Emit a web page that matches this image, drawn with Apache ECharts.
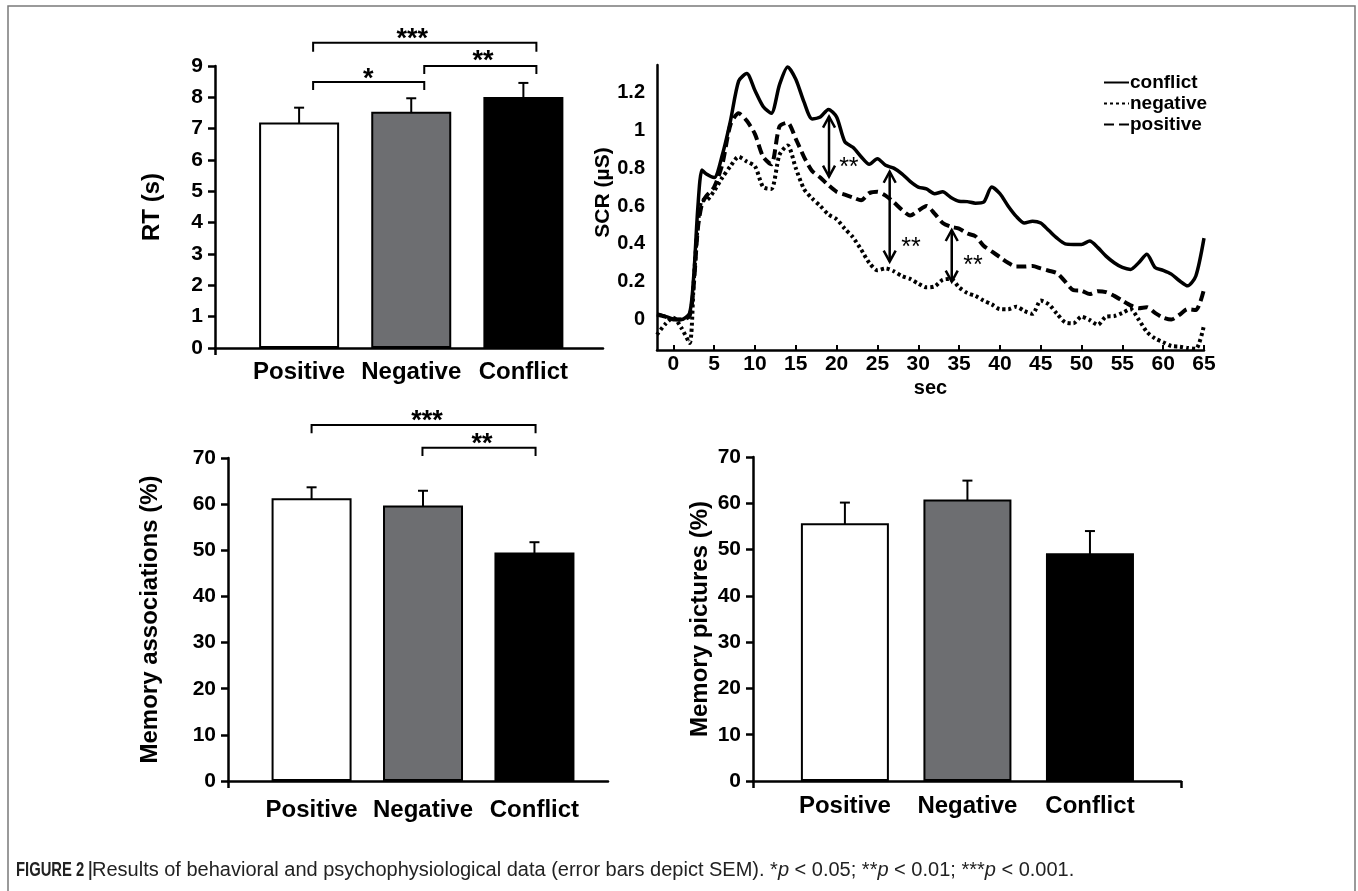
<!DOCTYPE html>
<html>
<head>
<meta charset="utf-8">
<script src="https://cdn.jsdelivr.net/npm/echarts@6/dist/echarts.min.js"></script>
<style>
  html, body { margin: 0; padding: 0; background: #fff; }
  #main { width: 1358px; height: 891px; }
</style>
</head>
<body>
<div id="main"></div>
<script>
// categories and bar values
var catNames = ['Positive', 'Negative', 'Conflict'];
var barColors = ['#ffffff', '#6d6e71', '#000000'];

var rtMean = [7.2, 7.54, 8.01];
var rtSem = [0.47, 0.43, 0.45];

var assocMean = [61.3, 59.7, 49.5];
var assocSem = [2.35, 3.2, 2.25];

var pictMean = [55.7, 60.8, 49.2];
var pictSem = [4.45, 4.1, 4.8];

// SCR time course (sec)
var secs = [-2, -1, 0, 1, 2, 2.5, 3, 3.5, 4, 5, 6, 7, 8, 9, 10, 11, 12, 13, 14, 15, 16, 17, 18, 19, 20,
  21, 22, 23, 24, 25, 26, 27, 28, 29, 30, 31, 32, 33, 34, 35, 36, 37, 38, 39, 40, 41, 42, 43, 44, 45,
  46, 47, 48, 49, 50, 51, 52, 53, 54, 55, 56, 57, 58, 59, 60, 61, 62, 63, 64, 65];
var scrConflict = [0.03, 0.017, 0.003, 0.0, 0.035, 0.23, 0.59, 0.79, 0.77, 0.75, 0.87, 1.05, 1.26, 1.30, 1.21,
  1.126, 1.09, 1.24, 1.335, 1.27, 1.15, 1.06, 1.07, 1.11, 1.07, 0.94, 0.91, 0.86, 0.82, 0.85, 0.815, 0.80,
  0.77, 0.73, 0.70, 0.69, 0.665, 0.675, 0.645, 0.625, 0.623, 0.615, 0.62, 0.70, 0.665, 0.60, 0.545, 0.51,
  0.52, 0.51, 0.47, 0.43, 0.40, 0.397, 0.397, 0.415, 0.38, 0.335, 0.30, 0.275, 0.265, 0.30, 0.345, 0.275,
  0.26, 0.24, 0.205, 0.178, 0.23, 0.43];
var scrNegative = [-0.08, -0.025, 0.01, -0.045, -0.124, 0.2, 0.50, 0.63, 0.63, 0.68, 0.75, 0.81, 0.86, 0.835,
  0.81, 0.70, 0.69, 0.87, 0.92, 0.80, 0.69, 0.64, 0.60, 0.555, 0.53, 0.48, 0.435, 0.37, 0.30, 0.26, 0.27,
  0.255, 0.23, 0.215, 0.19, 0.17, 0.175, 0.21, 0.215, 0.17, 0.14, 0.125, 0.10, 0.08, 0.055, 0.054, 0.068,
  0.045, 0.03, 0.10, 0.08, 0.03, -0.015, -0.02, 0.015, -0.003, -0.028, 0.015, 0.018, 0.035, 0.055, 0.0,
  -0.065, -0.10, -0.12, -0.14, -0.143, -0.15, -0.155, -0.03];
var scrPositive = [0.025, 0.015, 0.0, 0.0, 0.02, 0.18, 0.48, 0.61, 0.65, 0.70, 0.82, 1.03, 1.09, 1.05, 0.98,
  0.86, 0.82, 1.02, 1.04, 0.955, 0.86, 0.785, 0.75, 0.71, 0.675, 0.66, 0.645, 0.63, 0.668, 0.675, 0.655,
  0.62, 0.58, 0.55, 0.575, 0.60, 0.56, 0.51, 0.49, 0.48, 0.455, 0.44, 0.39, 0.36, 0.33, 0.30, 0.28, 0.28,
  0.283, 0.27, 0.258, 0.245, 0.20, 0.155, 0.152, 0.135, 0.15, 0.145, 0.125, 0.10, 0.075, 0.06, 0.065,
  0.035, 0.01, 0.0, 0.025, 0.055, 0.05, 0.16];

// significance brackets: [x1, x2, yTop, yLeg, textX, textY]
var rtBrackets = [[0.125, 2.116, 9.745, 9.457, 1.01, 10.05], [1.116, 2.116, 9.0, 8.745, 1.64, 9.32], [0.125, 1.116, 8.49, 8.235, 0.616, 8.77]];
var rtStars = ['***', '**', '*'];
var assocBrackets = [[0, 2.01, 77.16, 75.36, 1.036, 79.3], [0.995, 2.01, 72.24, 70.44, 1.53, 74.3]];
var assocStars = ['***', '**'];
// SCR double arrows: [x, yTop, yBottom, textX, textY]
var scrArrows = [[19.07, 1.072, 0.755, 21.5, 0.825], [26.5, 0.781, 0.306, 29.1, 0.403], [34.1, 0.473, 0.2, 36.7, 0.311]];

var FONT = 'Liberation Sans';
var myChart = echarts.init(document.getElementById('main'));

function barData(means) {
  return means.map(function (v, i) {
    return { value: [i, v], itemStyle: { color: barColors[i] } };
  });
}
function errData(means, sems) {
  return means.map(function (v, i) { return [i, v, sems[i]]; });
}
function lineData(vals) {
  return secs.map(function (s, i) { return [s, vals[i]]; });
}

function renderErr(capHalf) {
  return function (params, api) {
    var x = api.value(0), m = api.value(1), e = api.value(2);
    var hi = api.coord([x, m + e]);
    var lo = api.coord([x, m - e]);
    var st = { stroke: '#000', lineWidth: 2 };
    return {
      type: 'group', children: [
        { type: 'line', shape: { x1: hi[0], y1: hi[1], x2: lo[0], y2: lo[1] }, style: st },
        { type: 'line', shape: { x1: hi[0] - capHalf, y1: hi[1], x2: hi[0] + capHalf, y2: hi[1] }, style: st },
        { type: 'line', shape: { x1: lo[0] - capHalf, y1: lo[1], x2: lo[0] + capHalf, y2: lo[1] }, style: st }
      ]
    };
  };
}

function renderBracket(labels) {
  return function (params, api) {
    var a = api.coord([api.value(0), api.value(3)]);
    var b = api.coord([api.value(0), api.value(2)]);
    var c = api.coord([api.value(1), api.value(2)]);
    var d = api.coord([api.value(1), api.value(3)]);
    var t = api.coord([api.value(4), api.value(5)]);
    return {
      type: 'group', children: [
        { type: 'polyline', shape: { points: [a, b, c, d] }, style: { stroke: '#000', lineWidth: 2, fill: 'none' } },
        { type: 'text', x: t[0], y: t[1] + 6, style: { text: labels[params.dataIndex], fill: '#000',
          fontFamily: FONT, fontWeight: 'bold', fontSize: 27, align: 'center', verticalAlign: 'middle' } }
      ]
    };
  };
}

function renderArrow(params, api) {
  var top = api.coord([api.value(0), api.value(1)]);
  var bot = api.coord([api.value(0), api.value(2)]);
  var t = api.coord([api.value(3), api.value(4)]);
  var st = { stroke: '#000', lineWidth: 2.5, fill: 'none' };
  var w = 6, h = 11;
  return {
    type: 'group', children: [
      { type: 'line', shape: { x1: top[0], y1: top[1], x2: bot[0], y2: bot[1] }, style: st },
      { type: 'polyline', shape: { points: [[top[0] - w, top[1] + h], [top[0], top[1]], [top[0] + w, top[1] + h]] }, style: st },
      { type: 'polyline', shape: { points: [[bot[0] - w, bot[1] - h], [bot[0], bot[1]], [bot[0] + w, bot[1] - h]] }, style: st },
      { type: 'text', x: t[0], y: t[1] + 5, style: { text: '**', fill: '#000', fontFamily: FONT,
        fontSize: 25, align: 'center', verticalAlign: 'middle' } }
    ]
  };
}

var tickLabel = { color: '#000', fontFamily: FONT, fontWeight: 'bold', fontSize: 21 };
var nameStyle = { color: '#000', fontFamily: FONT, fontWeight: 'bold', fontSize: 24 };

function catAxis(grid, max, ticks, margin) {
  return {
    type: 'value', gridIndex: grid, min: -0.75, max: max,
    axisLine: { onZero: false, lineStyle: { color: '#000', width: 2.5 } },
    axisTick: { show: true, customValues: ticks, length: 7, lineStyle: { color: '#000', width: 2.5 } },
    axisLabel: {
      customValues: [0, 1, 2], margin: margin, color: '#000', fontFamily: FONT, fontWeight: 'bold', fontSize: 24,
      formatter: function (v) { return catNames[Math.round(v)]; }
    },
    splitLine: { show: false }
  };
}
function valAxis(grid, max, interval, name, gap) {
  return {
    type: 'value', gridIndex: grid, min: 0, max: max, interval: interval,
    name: name, nameLocation: 'middle', nameGap: gap, nameTextStyle: nameStyle,
    axisLine: { show: true, onZero: false, lineStyle: { color: '#000', width: 2.5 } },
    axisTick: { show: true, length: 7, lineStyle: { color: '#000', width: 2.5 } },
    axisLabel: Object.assign({ margin: 12 }, tickLabel),
    splitLine: { show: false }
  };
}

var option = {
  backgroundColor: '#fff',
  animation: false,
  textStyle: { fontFamily: FONT },
  grid: [
    { left: 215, top: 66, width: 388, height: 282 },
    { left: 657, top: 65, width: 547, height: 285 },
    { left: 228, top: 458, width: 380, height: 323 },
    { left: 753, top: 457, width: 428, height: 324 }
  ],
  legend: {
    data: ['conflict', 'negative', 'positive'],
    orient: 'vertical', left: 1103, top: 73, padding: 0,
    itemWidth: 25, itemHeight: 12, itemGap: 2,
    itemStyle: { opacity: 0 },
    textStyle: { color: '#000', fontFamily: FONT, fontWeight: 'bold', fontSize: 19, lineHeight: 18, padding: [0, 0, 0, -4] }
  },
  xAxis: [
    catAxis(0, 2.71, [-0.75], 12),
    {
      type: 'value', gridIndex: 1, min: -2, max: 65,
      name: 'sec', nameLocation: 'middle', nameGap: 28,
      nameTextStyle: { color: '#000', fontFamily: FONT, fontWeight: 'bold', fontSize: 20 },
      axisLine: { onZero: false, lineStyle: { color: '#000', width: 2.5 } },
      axisTick: { show: true, inside: true, length: 5, customValues: [0, 5, 10, 15, 20, 25, 30, 35, 40, 45, 50, 55, 60, 65],
        lineStyle: { color: '#000', width: 2 } },
      axisLabel: { customValues: [0, 5, 10, 15, 20, 25, 30, 35, 40, 45, 50, 55, 60, 65], margin: 4,
        color: '#000', fontFamily: FONT, fontWeight: 'bold', fontSize: 21 },
      splitLine: { show: false }
    },
    catAxis(2, 2.66, [-0.75], 17),
    catAxis(3, 2.743, [-0.75, 2.743], 13)
  ],
  yAxis: [
    valAxis(0, 9, 1, 'RT (s)', 51),
    {
      type: 'value', gridIndex: 1, min: -0.161, max: 1.345,
      name: 'SCR (µS)', nameLocation: 'middle', nameGap: 38, nameTextStyle: Object.assign({}, nameStyle, { fontSize: 21, padding: [0, 0, 0, 30] }),
      axisLine: { show: true, onZero: false, lineStyle: { color: '#000', width: 2.5 } },
      axisTick: { show: false },
      axisLabel: { customValues: [0, 0.2, 0.4, 0.6, 0.8, 1, 1.2], margin: 12, color: '#000', fontFamily: FONT,
        fontWeight: 'bold', fontSize: 20, formatter: function (v) { return String(v); } },
      splitLine: { show: false }
    },
    valAxis(2, 70, 10, 'Memory associations (%)', 66),
    valAxis(3, 70, 10, 'Memory pictures (%)', 41)
  ],
  series: [
    { type: 'bar', xAxisIndex: 0, yAxisIndex: 0, barWidth: 80, data: barData(rtMean),
      itemStyle: { borderColor: '#000', borderWidth: 2 } },
    { type: 'custom', xAxisIndex: 0, yAxisIndex: 0, renderItem: renderErr(5), data: errData(rtMean, rtSem) },
    { type: 'custom', xAxisIndex: 0, yAxisIndex: 0, renderItem: renderBracket(rtStars), data: rtBrackets, clip: false },

    { type: 'bar', xAxisIndex: 2, yAxisIndex: 2, barWidth: 80, data: barData(assocMean),
      itemStyle: { borderColor: '#000', borderWidth: 2 } },
    { type: 'custom', xAxisIndex: 2, yAxisIndex: 2, renderItem: renderErr(5), data: errData(assocMean, assocSem) },
    { type: 'custom', xAxisIndex: 2, yAxisIndex: 2, renderItem: renderBracket(assocStars), data: assocBrackets, clip: false },

    { type: 'bar', xAxisIndex: 3, yAxisIndex: 3, barWidth: 88, data: barData(pictMean),
      itemStyle: { borderColor: '#000', borderWidth: 2 } },
    { type: 'custom', xAxisIndex: 3, yAxisIndex: 3, renderItem: renderErr(5), data: errData(pictMean, pictSem) },

    { name: 'conflict', type: 'line', xAxisIndex: 1, yAxisIndex: 1, data: lineData(scrConflict),
      symbol: 'none', smooth: 0.25, clip: false, itemStyle: { color: '#000' },
      lineStyle: { color: '#000', width: 3.5, type: 'solid' } },
    { name: 'negative', type: 'line', xAxisIndex: 1, yAxisIndex: 1, data: lineData(scrNegative),
      symbol: 'none', smooth: 0.25, clip: false, itemStyle: { color: '#000' },
      lineStyle: { color: '#000', width: 4, type: [3, 3], cap: 'butt' } },
    { name: 'positive', type: 'line', xAxisIndex: 1, yAxisIndex: 1, data: lineData(scrPositive),
      symbol: 'none', smooth: 0.25, clip: false, itemStyle: { color: '#000' },
      lineStyle: { color: '#000', width: 4, type: [10, 5], cap: 'butt' } },
    { type: 'custom', xAxisIndex: 1, yAxisIndex: 1, renderItem: renderArrow, data: scrArrows, clip: false }
  ],
  graphic: [
    { type: 'rect', shape: { x: 8, y: 6, width: 1347, height: 950 }, style: { fill: 'none', stroke: '#7a7a7a', lineWidth: 1.5 }, silent: true },
    {
      type: 'text', x: 16, y: 860, scaleX: 0.74,
      style: { text: 'FIGURE 2 |', fill: '#222', fontFamily: FONT, fontSize: 20, fontWeight: 'bold' }
    },
    {
      type: 'text', x: 92, y: 860,
      style: {
        text: 'Results of behavioral and psychophysiological data (error bars depict SEM). *{i|p} < 0.05; **{i|p} < 0.01; ***{i|p} < 0.001.',
        fill: '#222', fontFamily: FONT, fontSize: 20,
        rich: {
          i: { fontFamily: FONT, fontSize: 20, fontStyle: 'italic', fill: '#222' }
        }
      }
    }
  ]
};

myChart.setOption(option);
</script>
</body>
</html>
